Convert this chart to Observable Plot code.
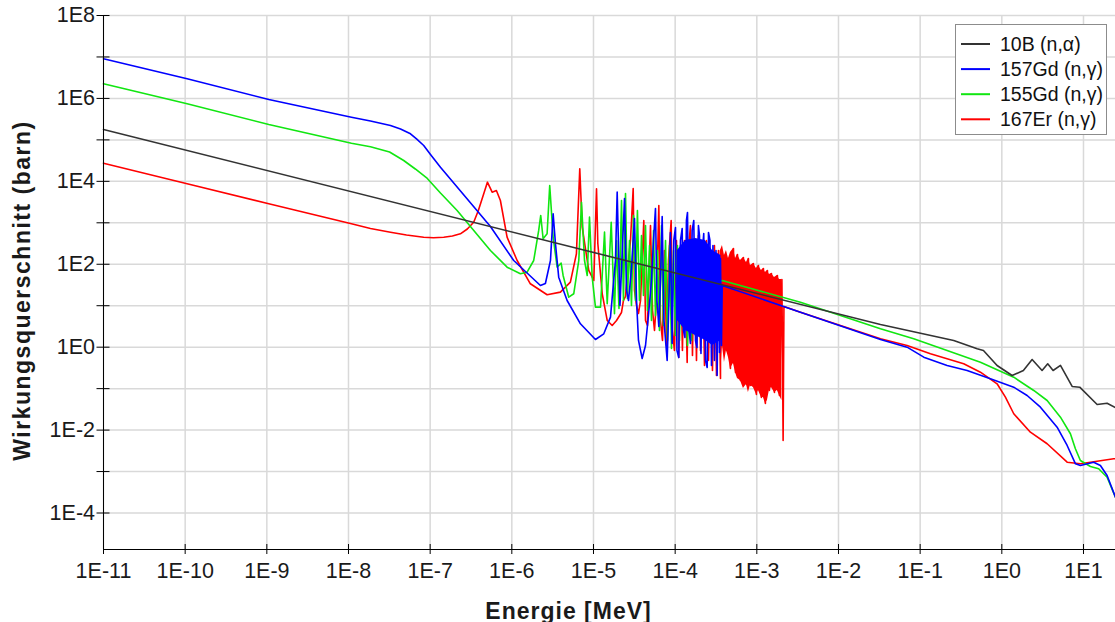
<!DOCTYPE html>
<html><head><meta charset="utf-8">
<script src="https://cdn.jsdelivr.net/npm/d3@7"></script>
<script src="https://cdn.jsdelivr.net/npm/@observablehq/plot@0.6"></script>
<style>
body{margin:0;background:#fff;}
#wrap{position:relative;width:1115px;height:622px;overflow:hidden;font-family:"Liberation Sans",Arial,sans-serif;}
#wrap svg{position:absolute;left:0;top:0;}
</style></head>
<body><div id="wrap"></div>
<script>
// All values are [log10(E / MeV), log10(sigma / barn)].
const b10Alpha = [[-11.00,5.251],[-1.486,0.548],[-0.589,0.162],[-0.302,-0.039],[-0.225,-0.080],[-0.058,-0.441],[0.126,-0.683],[0.264,-0.562],[0.371,-0.297],[0.493,-0.562],[0.562,-0.400],[0.628,-0.562],[0.718,-0.441],[0.861,-0.948],[0.954,-0.965],[1.167,-1.383],[1.289,-1.351],[1.391,-1.455]];

const gd157Thermal = [[-11.00,6.956],[-9.976,6.474],[-8.976,5.974],[-7.964,5.548],[-7.731,5.456],[-7.486,5.347],[-7.363,5.263],[-7.241,5.147],[-7.167,5.022],[-7.079,4.865],[-6.996,4.648],[-6.874,4.342],[-6.262,2.911],[-5.977,2.091],[-5.650,1.488],[-5.589,1.536],[-5.527,2.091],[-5.494,3.218],[-5.466,2.501],[-5.426,1.688],[-5.323,1.126],[-5.160,0.564],[-4.976,0.186],[-4.874,0.323],[-4.792,0.724],[-4.731,2.091],[-4.710,3.739]];
const gd157Resonances = [[-4.676,1.006],[-4.620,3.587],[-4.596,1.368],[-4.571,1.126],[-4.535,1.898],[-4.498,3.104],[-4.473,1.126],[-4.449,0.162],[-4.404,-0.273],[-4.363,0.041],[-4.327,0.765],[-4.290,1.609],[-4.265,2.574],[-4.241,3.345],[-4.223,1.126],[-4.200,0.499],[-4.180,1.609],[-4.159,3.152],[-4.137,0.644],[-4.098,-0.321],[-4.076,1.126],[-4.058,2.767],[-4.037,0.089],[-4.017,2.574],[-3.996,2.887],[-3.978,-0.080],[-3.956,-0.248],[-3.935,2.574],[-3.914,2.863],[-3.898,0.403],[-3.880,0.234],[-3.862,3.056],[-3.849,3.249],[-3.831,0.403],[-3.813,0.089],[-3.792,2.815],[-3.772,3.056],[-3.751,0.162],[-3.733,-0.007],[-3.715,2.935],[-3.702,2.694],[-3.684,-0.152],[-3.666,2.332],[-3.650,2.742],[-3.629,-0.321],[-3.608,-0.490],[-3.592,2.767],[-3.574,2.574],[-3.555,-0.441],[-3.537,2.453],[-3.519,-0.321],[-3.500,2.332],[-3.486,-0.683],[-3.470,2.212],[-3.457,-0.128],[-3.445,2.139],[-3.433,0.041],[-3.424,1.488]];
const gd157Fast = [[-2.466,0.844],[-1.486,0.186],[-1.160,0.000],[-0.956,-0.241],[-0.670,-0.441],[-0.425,-0.562],[-0.140,-0.762],[0.146,-0.965],[0.310,-1.165],[0.473,-1.447],[0.677,-1.930],[0.800,-2.371],[0.902,-2.813],[0.962,-2.853],[1.125,-2.774],[1.207,-2.853],[1.289,-3.095],[1.391,-3.618]];
// [log10 E, upper, lower] of the unresolved dense band
const gd157Band = [[-3.972,2.332,0.644],[-3.874,2.574,0.403],[-3.751,2.622,0.282],[-3.629,2.574,0.162],[-3.543,2.332,0.041],[-3.439,2.212,0.162]];

const gd155Thermal = [[-11.00,6.353],[-9.976,5.871],[-8.976,5.371],[-7.964,4.920],[-7.731,4.834],[-7.497,4.708],[-7.324,4.503],[-7.182,4.298],[-7.035,4.069],[-6.874,3.719],[-6.670,3.297],[-6.262,2.332],[-6.058,1.930],[-5.895,1.770],[-5.813,1.809],[-5.732,2.091],[-5.671,2.815],[-5.646,3.177],[-5.617,2.615],[-5.568,2.735],[-5.536,3.900],[-5.494,2.653],[-5.445,1.930],[-5.396,2.026],[-5.372,1.729],[-5.303,1.206],[-5.242,1.288],[-5.180,2.091],[-5.147,3.497],[-5.110,2.091],[-5.077,1.729],[-5.049,3.136],[-5.016,1.688],[-4.976,0.965],[-4.914,0.965],[-4.865,2.774],[-4.832,1.047],[-4.783,3.015],[-4.743,0.806]];
const gd155Resonances = [[-4.718,2.574],[-4.688,0.933],[-4.657,3.538],[-4.633,1.126],[-4.608,3.707],[-4.584,1.175],[-4.559,2.574],[-4.535,1.006],[-4.510,3.177],[-4.486,1.126],[-4.462,3.297],[-4.437,1.126],[-4.412,2.694],[-4.388,1.247],[-4.363,2.935],[-4.339,0.885],[-4.314,2.453],[-4.290,0.644],[-4.265,2.815],[-4.241,0.765],[-4.216,2.332],[-4.192,0.403],[-4.167,2.935],[-4.143,0.523],[-4.118,2.574],[-4.094,0.162],[-4.069,2.453],[-4.045,-0.031],[-4.020,2.332],[-3.996,0.282],[-3.972,2.453],[-3.947,0.162],[-3.923,2.212],[-3.898,0.403],[-3.874,2.332],[-3.849,0.041],[-3.825,2.091],[-3.800,0.162],[-3.776,2.212],[-3.751,0.282],[-3.727,1.971],[-3.702,0.644],[-3.666,1.729],[-3.617,1.368],[-3.543,1.488],[-3.424,1.609]];
const gd155Fast = [[-2.466,1.085],[-1.486,0.444],[-1.079,0.203],[-0.670,-0.080],[-0.262,-0.362],[0.146,-0.724],[0.391,-1.044],[0.555,-1.286],[0.718,-1.688],[0.840,-2.089],[0.901,-2.451],[0.962,-2.733],[1.085,-2.877],[1.186,-2.933],[1.289,-3.136],[1.391,-3.618]];

const er167Thermal = [[-11.00,4.438],[-9.976,3.941],[-8.976,3.459],[-7.964,2.976],[-7.731,2.863],[-7.486,2.774],[-7.290,2.706],[-7.079,2.653],[-6.960,2.641],[-6.834,2.653],[-6.728,2.682],[-6.630,2.735],[-6.545,2.851],[-6.467,3.015],[-6.410,3.297],[-6.344,3.700],[-6.299,3.980],[-6.241,3.739],[-6.189,3.780],[-6.140,3.538],[-6.058,2.653],[-5.935,2.091],[-5.773,1.529],[-5.568,1.264],[-5.405,1.327],[-5.283,1.568],[-5.209,2.253],[-5.168,4.303],[-5.138,2.894],[-5.058,1.850],[-4.996,1.609],[-4.963,3.821],[-4.947,2.501],[-4.893,1.288],[-4.832,0.644],[-4.771,0.523],[-4.718,0.644]];
const er167Resonances = [[-4.657,0.837],[-4.633,1.126],[-4.608,1.223],[-4.571,2.091],[-4.547,2.574],[-4.514,3.828],[-4.498,1.368],[-4.473,1.006],[-4.449,0.813],[-4.424,1.126],[-4.384,3.056],[-4.363,0.644],[-4.339,0.523],[-4.302,2.935],[-4.277,0.885],[-4.253,0.403],[-4.229,1.126],[-4.200,3.418],[-4.180,0.644],[-4.155,0.162],[-4.131,2.332],[-4.106,0.041],[-4.082,2.091],[-4.049,3.056],[-4.033,0.403],[-4.009,-0.080],[-3.984,2.574],[-3.956,-0.248],[-3.935,2.453],[-3.911,-0.080],[-3.886,2.574],[-3.853,-0.369],[-3.837,2.332],[-3.813,2.935],[-3.788,-0.200],[-3.764,2.574],[-3.739,-0.321],[-3.715,2.694],[-3.690,-0.080],[-3.666,2.453],[-3.641,-0.441],[-3.617,2.574],[-3.592,-0.321],[-3.568,2.332],[-3.543,-0.562],[-3.519,2.453],[-3.494,-0.683],[-3.470,2.332],[-3.445,-0.755]];
// [log10 E, upper, lower] of the dense resonance block
const er167Band = [[-3.445,2.332,-0.683],[-3.421,2.453,0.041],[-3.396,2.212,-0.369],[-3.372,2.332,-0.080],[-3.347,2.139,-0.248],[-3.323,2.285,-0.513],[-3.286,2.381,-0.393],[-3.261,2.139,-0.610],[-3.237,2.236,-0.755],[-3.201,2.091,-0.803],[-3.164,2.164,-0.996],[-3.127,2.043,-0.900],[-3.103,2.139,-1.093],[-3.078,1.971,-0.924],[-3.042,2.019,-0.972],[-3.005,1.899,-1.141],[-2.980,1.971,-1.044],[-2.944,1.850,-1.213],[-2.919,1.899,-1.213],[-2.895,1.802,-1.358],[-2.870,1.850,-1.286],[-2.846,1.754,-1.044],[-2.821,1.778,-0.972],[-2.784,1.681,-1.093],[-2.748,1.730,-1.044],[-2.723,1.633,-1.165],[-2.693,1.633,-1.286]];
const er167Fast = [[-2.678,-2.250],[-2.668,0.982],[-2.466,0.844],[-1.976,0.523],[-1.486,0.203],[-1.160,0.041],[-0.874,-0.159],[-0.467,-0.400],[-0.262,-0.603],[-0.058,-0.883],[0.044,-1.206],[0.146,-1.606],[0.350,-2.050],[0.555,-2.330],[0.800,-2.774],[0.962,-2.813],[1.370,-2.692],[1.391,-2.692]];

const xTickValues = [1e-11,1e-10,1e-9,1e-8,1e-7,1e-6,1e-5,1e-4,1e-3,1e-2,1e-1,1e0,1e1];
const xTickLabels = ["1E-11","1E-10","1E-9","1E-8","1E-7","1E-6","1E-5","1E-4","1E-3","1E-2","1E-1","1E0","1E1"];
const yGridValues = [1e-4,1e-3,1e-2,1e-1,1e0,1e1,1e2,1e3,1e4,1e5,1e6,1e7,1e8];
const yLabelValues = [1e-4,1e-2,1e0,1e2,1e4,1e6,1e8];
const yTickLabels = ["1E-4","1E-2","1E0","1E2","1E4","1E6","1E8"];

const seriesNames = ["10B (n,\u03b1)", "157Gd (n,\u03b3)", "155Gd (n,\u03b3)", "167Er (n,\u03b3)"];
const seriesColors = ["#333333", "#0000ff", "#11e611", "#ff0000"];
const [BLACK, BLUE, GREEN, RED] = seriesColors;

const pts = arr => arr.map(([e, s]) => ({E: 10 ** e, s: 10 ** s}));
const band = arr => arr.map(([e, hi, lo]) => ({E: 10 ** e, hi: 10 ** hi, lo: 10 ** lo}));
const zig = arr => arr.map(([e, hi, lo], i) => [e, i % 2 ? lo : hi]);

const black = pts(b10Alpha);
const blue = pts([...gd157Thermal, ...gd157Resonances, ...gd157Fast]);
const green = pts([...gd155Thermal, ...gd155Resonances, ...gd155Fast]);
const red = pts([...er167Thermal, ...er167Resonances, ...zig(er167Band), ...er167Fast]);

const xMin = 1e-11, xMax = 10 ** 1.392;
const yMin = 10 ** -4.88, yMax = 1e8;
const GRID = "#d9d9d9";
const LW = 1.6;

const chart = Plot.plot({
  width: 1115, height: 622,
  marginLeft: 103, marginRight: 0, marginTop: 15, marginBottom: 73,
  x: {type: "log", domain: [xMin, xMax], axis: null},
  y: {type: "log", domain: [yMin, yMax], axis: null},
  style: {fontFamily: "'Liberation Sans', Arial, sans-serif", background: "transparent", color: "#1a1a1a", overflow: "visible"},
  marks: [
    Plot.ruleX(xTickValues, {stroke: GRID, strokeWidth: 1.5}),
    Plot.ruleY(yGridValues, {stroke: GRID, strokeWidth: 1.5}),
    Plot.areaY(band(er167Band), {x: "E", y1: "lo", y2: "hi", fill: RED}),
    Plot.line(red, {x: "E", y: "s", stroke: RED, strokeWidth: LW}),
    Plot.line(green, {x: "E", y: "s", stroke: GREEN, strokeWidth: LW}),
    Plot.areaY(band(gd157Band), {x: "E", y1: "lo", y2: "hi", fill: BLUE}),
    Plot.line(blue, {x: "E", y: "s", stroke: BLUE, strokeWidth: LW}),
    Plot.line(black, {x: "E", y: "s", stroke: BLACK, strokeWidth: LW}),
    Plot.ruleX([xMin], {stroke: "#000"}),
    Plot.ruleY([yMin], {stroke: "#000"}),
    Plot.ruleX(xTickValues, {y1: yMin, y2: yMin, insetTop: -5, insetBottom: -5, stroke: "#000"}),
    Plot.ruleY(yGridValues, {x1: xMin, x2: xMin, insetLeft: -6.5, insetRight: -6.5, stroke: "#000"}),
    Plot.text(xTickValues, {x: d => d, frameAnchor: "bottom", text: (d, i) => xTickLabels[i], lineAnchor: "top", dy: 13.7, fontSize: 21.5}),
    Plot.text(yLabelValues, {y: d => d, frameAnchor: "left", text: (d, i) => yTickLabels[i], textAnchor: "end", dx: -8.5, fontSize: 21.5}),
    Plot.text(["Energie [MeV]"], {text: d => d, frameAnchor: "bottom", textAnchor: "middle", dx: -41, dy: 69, lineAnchor: "bottom", fontSize: 23, fontWeight: "bold"}),
    Plot.text(["Wirkungsquerschnitt (barn)"], {text: d => d, frameAnchor: "left", textAnchor: "middle", rotate: -90, dx: -80.6, dy: 8, fontSize: 23, fontWeight: "bold"})
  ]
});

const wrap = document.getElementById("wrap");
wrap.appendChild(chart);
d3.select(chart).selectAll("text").each(function () {
  const t = this.textContent;
  if (t === "Energie [MeV]") d3.select(this).style("letter-spacing", "1px");
  if (t === "Wirkungsquerschnitt (barn)") d3.select(this).style("letter-spacing", "1.5px");
});

// legend
const lg = d3.select(wrap).append("svg").attr("width", 1115).attr("height", 622)
  .style("font-family", "'Liberation Sans', Arial, sans-serif");
lg.append("rect").attr("x", 955.5).attr("y", 24.5).attr("width", 151).attr("height", 110)
  .attr("fill", "#fff").attr("stroke", "#8c8c8c");
seriesNames.forEach((name, i) => {
  const cy = 44 + i * 25.1;
  lg.append("line").attr("x1", 961).attr("x2", 990).attr("y1", cy).attr("y2", cy)
    .attr("stroke", seriesColors[i]).attr("stroke-width", 2);
  lg.append("text").attr("x", 1000).attr("y", cy + 7).attr("font-size", 19.5).attr("fill", "#111").text(name);
});
</script></body></html>
